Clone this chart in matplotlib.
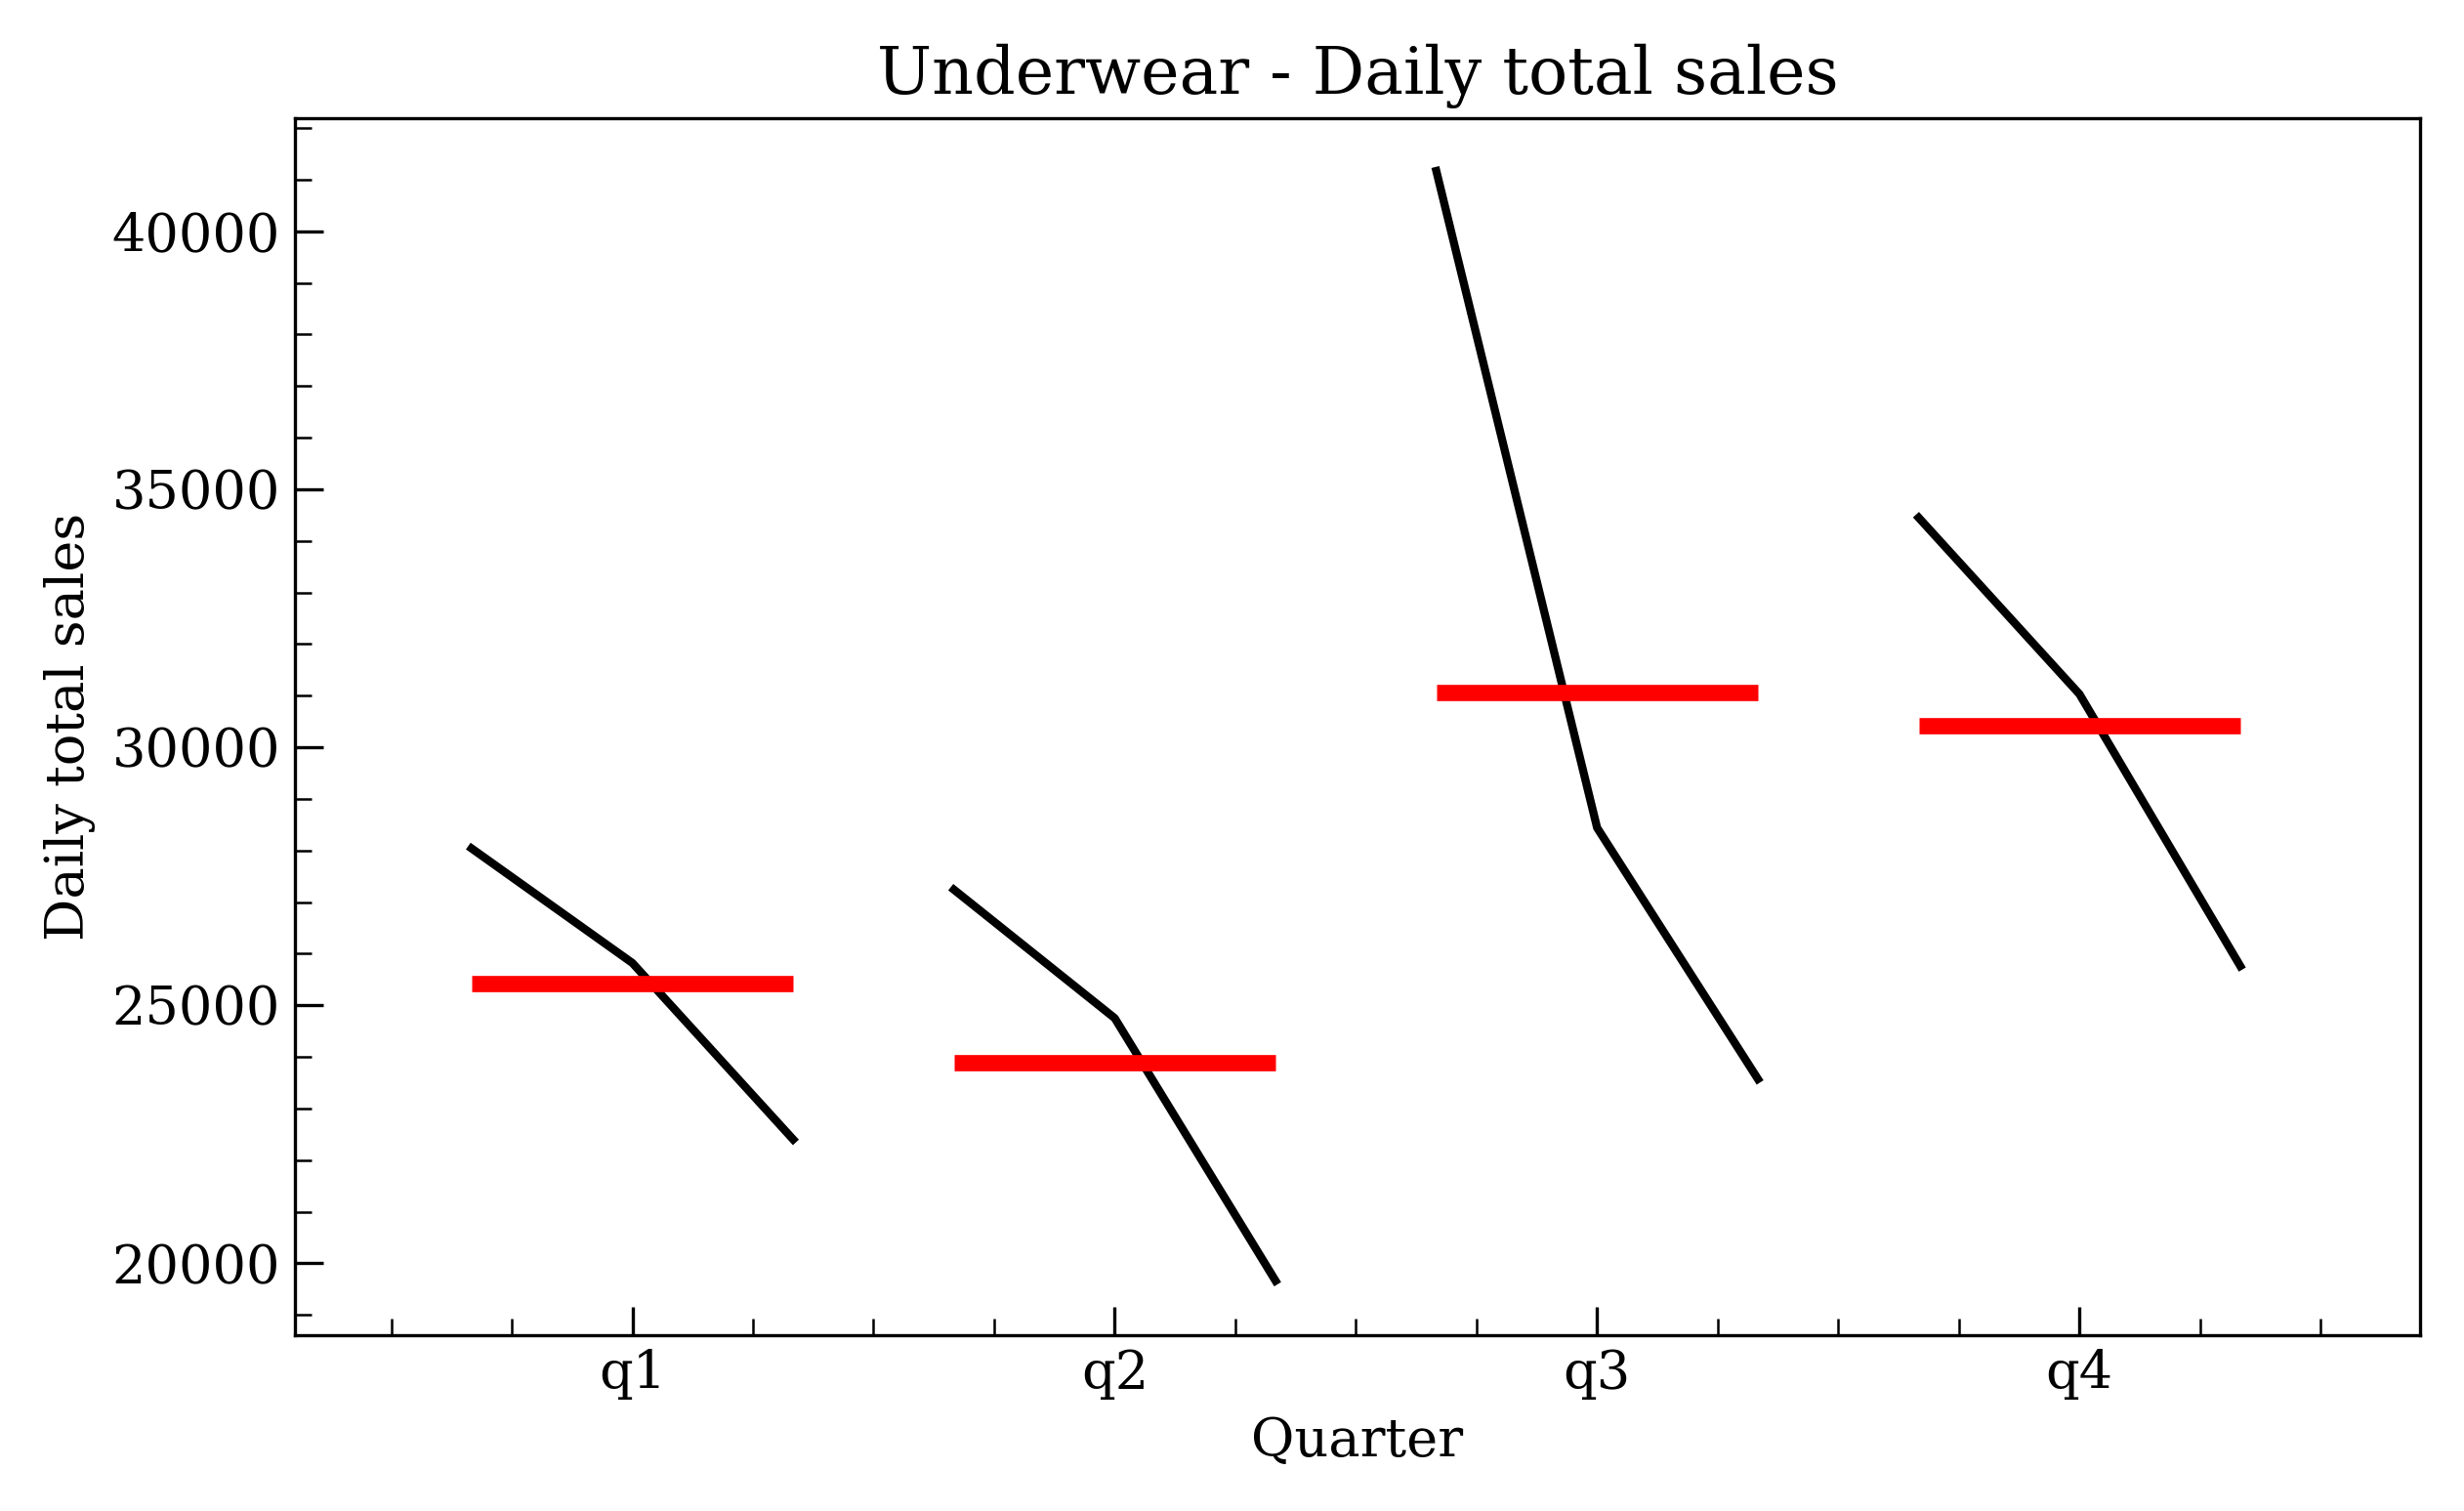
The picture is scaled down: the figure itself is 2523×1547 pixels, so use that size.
import matplotlib.pyplot as plt
from matplotlib.ticker import MultipleLocator

plt.rcParams['font.family'] = 'DejaVu Serif'

quarters = ["q1", "q2", "q3", "q4"]
# three yearly values per quarter
sales = [
    [28040, 25820, 22400],
    [27240, 24750, 19660],
    [41170, 28440, 23570],
    [34450, 31030, 25760],
]

fig, ax = plt.subplots(figsize=(8.41, 5.157), dpi=300)
offs = [-1 / 3, 0, 1 / 3]
for i, vals in enumerate(sales):
    xs = [i + o for o in offs]
    ax.plot(xs, vals, color="black", lw=2)
    m = sum(vals) / len(vals)
    ax.hlines(m, xs[0], xs[-1], color="red", lw=4)

ax.set_xticks(range(len(quarters)))
ax.set_xticklabels(quarters, fontsize=13)
ax.xaxis.set_minor_locator(MultipleLocator(0.25))
ax.yaxis.set_minor_locator(MultipleLocator(1000))
ax.tick_params(which="both", direction="in", labelsize=13)
ax.tick_params(which="major", length=7)
ax.tick_params(which="minor", length=4)
ax.set_xlim(-0.70, 3.706)
ax.set_ylim(18610, 42190)
ax.set_title("Underwear - Daily total sales", fontsize=16)
ax.set_xlabel("Quarter", fontsize=13)
ax.set_ylabel("Daily total sales", fontsize=13)
plt.tight_layout()
plt.savefig("out.png", dpi=300)
